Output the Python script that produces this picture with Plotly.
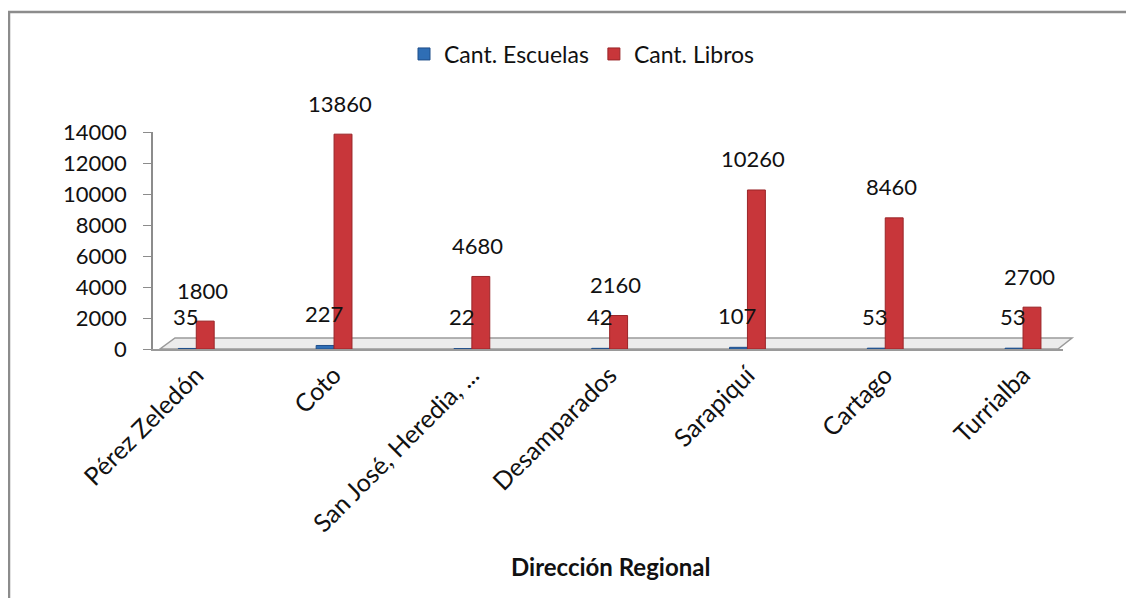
import plotly.graph_objects as go

categorias = ["Pérez Zeledón", "Coto", "San José, Heredia, ...", "Desamparados",
              "Sarapiquí", "Cartago", "Turrialba"]
escuelas = [35, 227, 22, 42, 107, 53, 53]
libros = [1800, 13860, 4680, 2160, 10260, 8460, 2700]
y_ticks = [0, 2000, 4000, 6000, 8000, 10000, 12000, 14000]
y_ticktext = [str(v) for v in y_ticks]

FONT = "Lato"
OFF = 8  # page body margin
W, H = 1134 - 2 * OFF, 614 - 2 * OFF - 8
L, T = 153 - OFF, 132 - OFF
R = W - (1063 - OFF)
B = H - (349 - OFF)
PW, PH = W - L - R, H - T - B

def px(x):
    return (x - OFF - L) / PW

def py(y):
    return (H - B - (y - OFF)) / PH

fig = go.Figure()
fig.add_trace(go.Bar(name="Cant. Escuelas", x=categorias, y=escuelas,
                     marker=dict(color="#2F6EB5", line=dict(color="#1F4E8A", width=1))))
fig.add_trace(go.Bar(name="Cant. Libros", x=categorias, y=libros,
                     marker=dict(color="#C8363A", line=dict(color="#9A2528", width=1))))

ann = []
for c, v in zip(categorias, escuelas):
    ann.append(dict(x=c, y=v, text=str(v), showarrow=False, xshift=-10, yshift=32,
                    font=dict(family=FONT, size=22, color="#111")))
for c, v in zip(categorias, libros):
    ann.append(dict(x=c, y=v, text=str(v), showarrow=False, xshift=6, yshift=31,
                    font=dict(family=FONT, size=22, color="#111")))
ann.append(dict(xref="paper", yref="paper", x=px(610), y=py(566), text="<b>Dirección Regional</b>",
                showarrow=False, xanchor="center", yanchor="middle",
                font=dict(family=FONT, size=24, color="#111")))

shapes = [
    # chart border (top and left edges; the others fall outside the picture)
    dict(type="path", xref="paper", yref="paper",
         path=f"M {px(1200)} {py(12)} L {px(9)} {py(12)} L {px(9)} {py(700)}",
         line=dict(color="#8c8c8c", width=2.5), layer="below"),
    # 3D floor
    dict(type="path", xref="paper", yref="paper",
         path=f"M {px(160)} {py(349)} L {px(1058)} {py(349)} L {px(1072)} {py(338)} L {px(175)} {py(338)} Z",
         line=dict(color="#9a9a9a", width=1.5), fillcolor="#ececec", layer="below"),
]

fig.update_layout(
    width=W, height=H,
    margin=dict(l=L, r=R, t=T, b=B),
    paper_bgcolor="white", plot_bgcolor="white",
    barmode="group", bargap=0.74, bargroupgap=0,
    font=dict(family=FONT, size=20, color="#111"),
    legend=dict(orientation="h", x=px(582), y=py(54), xanchor="center", yanchor="middle",
                font=dict(family=FONT, size=23, color="#111"), itemwidth=30,
                bgcolor="rgba(0,0,0,0)"),
    annotations=ann,
    shapes=shapes,
    showlegend=True,
)
fig.update_yaxes(range=[0, 14000], tickvals=y_ticks, ticktext=y_ticktext, showgrid=False, zeroline=False,
                 showline=True, linecolor="#8c8c8c", linewidth=1.5,
                 ticks="outside", ticklen=8, tickcolor="#8c8c8c",
                 tickfont=dict(family=FONT, size=22, color="#111"), ticklabelstandoff=12)
fig.update_xaxes(range=[-0.314, 6.29], showgrid=False, zeroline=False, showline=True,
                 linecolor="#9a9a9a", linewidth=1.5,
                 tickangle=-45, tickfont=dict(family=FONT, size=25, color="#111"))

fig.write_html("out.html")
